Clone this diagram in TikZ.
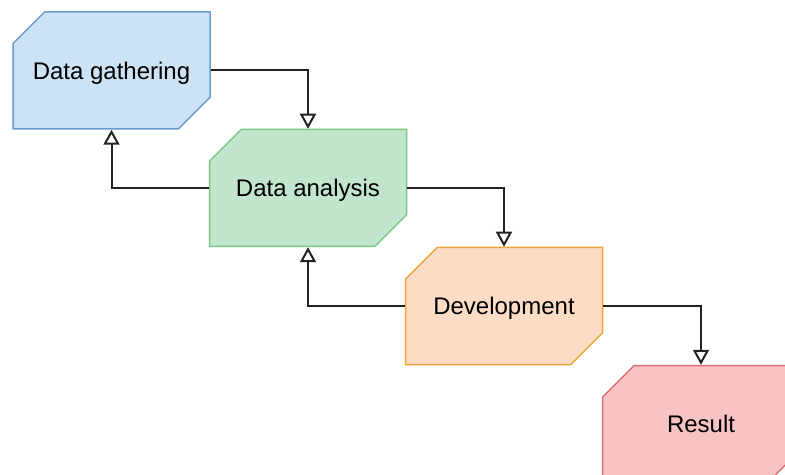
\documentclass[tikz,border=0pt]{standalone}
\usepackage{fontspec}
\setmainfont{Liberation Sans}
\usetikzlibrary{shapes.misc,arrows.meta}
\definecolor{bfill}{HTML}{CCE3F5}
\definecolor{bdraw}{HTML}{6C9BCF}
\definecolor{gfill}{HTML}{C2E5CE}
\definecolor{gdraw}{HTML}{7CC780}
\definecolor{ofill}{HTML}{FCDCC4}
\definecolor{odraw}{HTML}{F0A43A}
\definecolor{rfill}{HTML}{F8C3C4}
\definecolor{rdraw}{HTML}{DD6E6E}
\definecolor{edgecol}{HTML}{222222}
\tikzset{
  stage/.style={chamfered rectangle, chamfered rectangle corners={north west,south east},
    chamfered rectangle xsep=11.5pt, chamfered rectangle ysep=11.5pt,
    minimum width=98.5pt, minimum height=58.5pt, inner sep=0pt,
    text height=8.6pt, text depth=0pt,
    line width=0.75pt, font=\fontsize{12}{14}\selectfont, text=black},
  flow/.style={draw=edgecol, line width=1pt, -{Triangle[open,width=8pt,length=7.5pt]}}
}
\begin{document}
\begin{tikzpicture}[x=0.5pt,y=-0.5pt]
\useasboundingbox (0,0) rectangle (785,475);
\begin{scope}
\clip (0,0) rectangle (785,475);
\node[stage, fill=bfill, draw=bdraw] (dg) at (111.5,70.5) {Data gathering};
\node[stage, fill=gfill, draw=gdraw] (da) at (308,188) {Data analysis};
\node[stage, fill=ofill, draw=odraw] (dev) at (504,306) {Development};
\node[stage, fill=rfill, draw=rdraw] (res) at (701,424) {Result};
\end{scope}
\draw[flow] (dg.east) -| (da.north);
\draw[flow] (da.west) -| (dg.south);
\draw[flow] (da.east) -| (dev.north);
\draw[flow] (dev.west) -| (da.south);
\draw[flow] (dev.east) -| (res.north);
\end{tikzpicture}
\end{document}
